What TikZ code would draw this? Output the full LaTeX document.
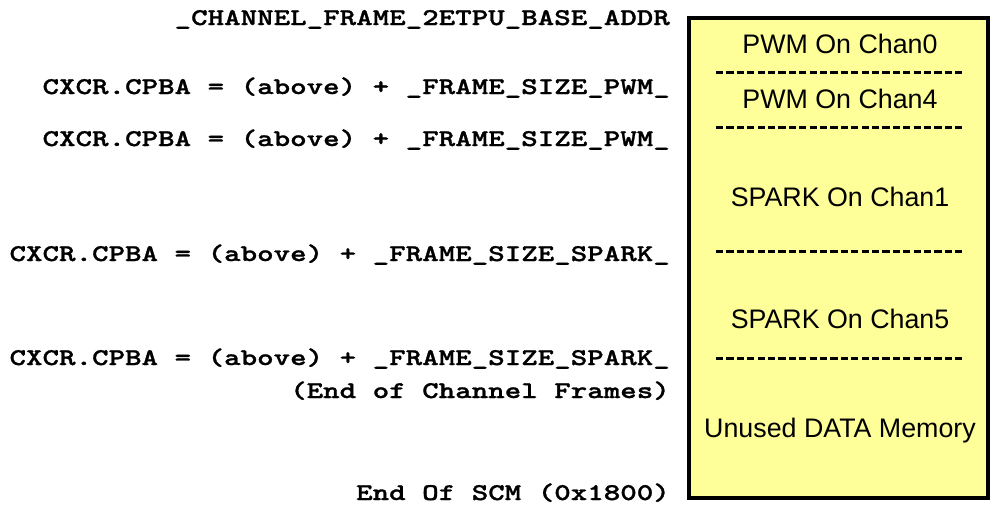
\documentclass[tikz,border=0pt]{standalone}
\usepackage{fontspec}
\setmainfont{Liberation Sans}
\newfontfamily\codefont[FakeStretch=1.31,FakeBold=1.2]{lmmonolt10-bold.otf}
\newfontfamily\labelfont{Liberation Sans}
\definecolor{memyellow}{HTML}{FFFF99}
\begin{document}
\begin{tikzpicture}[x=1pt,y=-1pt,
  codelabel/.style={font=\codefont\fontsize{24}{24}\selectfont, anchor=base east, inner sep=0pt},
  framelabel/.style={font=\labelfont\fontsize{26.8}{26.8}\selectfont, anchor=base, inner sep=0pt},
  separator/.style={line width=3pt, dash pattern=on 7.2pt off 3.2pt},
  memblock/.style={draw=black, line width=4pt, fill=memyellow}]
\useasboundingbox (0,0) rectangle (990,509);

% memory block holding the channel frames
\draw[memblock] (689,18) rectangle (988,498);

\node[framelabel] (pwm0) at (840,53) {PWM On Chan0};
\node[framelabel] (pwm4) at (840,108) {PWM On Chan4};
\node[framelabel] (spk1) at (840,206) {SPARK On Chan1};
\node[framelabel] (spk5) at (840,328) {SPARK On Chan5};
\node[framelabel] (unused) at (840,437) {Unused DATA Memory};

% separators between frames
\coordinate (s1l) at (716,72);  \coordinate (s1r) at (963,72);
\coordinate (s2l) at (716,127); \coordinate (s2r) at (963,127);
\coordinate (s3l) at (716,251); \coordinate (s3r) at (963,251);
\coordinate (s4l) at (716,358); \coordinate (s4r) at (963,358);
\draw[separator] (s1l) -- (s1r);
\draw[separator] (s2l) -- (s2r);
\draw[separator] (s3l) -- (s3r);
\draw[separator] (s4l) -- (s4r);

% address annotations
\node[codelabel] (base) at (670,25) {\_CHANNEL\_FRAME\_2ETPU\_BASE\_ADDR};
\node[codelabel] (cp1) at (670,94) {CXCR.CPBA = (above) + \_FRAME\_SIZE\_PWM\_};
\node[codelabel] (cp2) at (670,146) {CXCR.CPBA = (above) + \_FRAME\_SIZE\_PWM\_};
\node[codelabel] (cp3) at (670,261) {CXCR.CPBA = (above) + \_FRAME\_SIZE\_SPARK\_};
\node[codelabel] (cp4) at (670,365) {CXCR.CPBA = (above) + \_FRAME\_SIZE\_SPARK\_};
\node[codelabel] (endcf) at (670,398) {(End of Channel Frames)};
\node[codelabel] (endscm) at (670,500) {End Of SCM (0x1800)};
\end{tikzpicture}
\end{document}
